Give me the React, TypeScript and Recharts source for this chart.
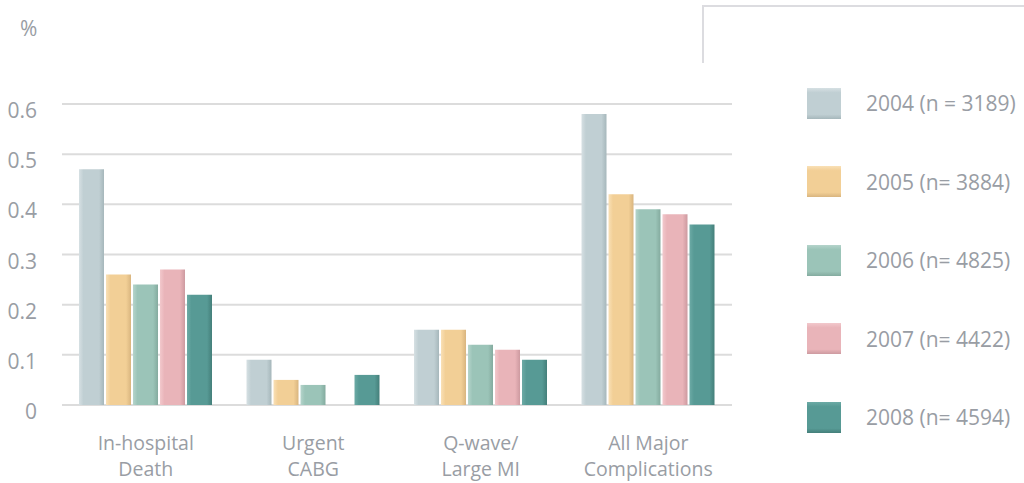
import React from 'react'
import { BarChart, Bar, XAxis, YAxis, CartesianGrid } from 'recharts'

const categories = ['In-hospital\nDeath', 'Urgent\nCABG', 'Q-wave/\nLarge MI', 'All Major\nComplications']
const y2004 = [0.47, 0.09, 0.15, 0.58]
const y2005 = [0.26, 0.05, 0.15, 0.42]
const y2006 = [0.24, 0.04, 0.12, 0.39]
const y2007 = [0.27, null, 0.11, 0.38]
const y2008 = [0.22, 0.06, 0.09, 0.36]
const yTicks = [0, 0.1, 0.2, 0.3, 0.4, 0.5, 0.6]

const series = [
  { key: 'y2004', name: '2004 (n = 3189)', values: y2004, light: '#d6e0e3', base: '#c0cfd3', dark: '#a6b7bb' },
  { key: 'y2005', name: '2005 (n= 3884)', values: y2005, light: '#f9e0b6', base: '#f2cf96', dark: '#d9b57f' },
  { key: 'y2006', name: '2006 (n= 4825)', values: y2006, light: '#b5d4cb', base: '#9bc4b8', dark: '#84ab9f' },
  { key: 'y2007', name: '2007 (n= 4422)', values: y2007, light: '#f2c8cc', base: '#e9b4b9', dark: '#cd9aa0' },
  { key: 'y2008', name: '2008 (n= 4594)', values: y2008, light: '#6caaa5', base: '#579a95', dark: '#447f7a' },
]

const data = categories.map((c, i) => {
  const row: Record<string, any> = { name: c }
  series.forEach(s => { row[s.key] = s.values[i] })
  return row
})

const textColor = '#999da4'
const font = '"Open Sans", sans-serif'

function YTick({ y, payload }: any) {
  const v = payload.value
  return (
    <text x={37} y={y} dy={14} textAnchor="end" fontSize={21} fill={textColor} fontFamily={font}>
      {v === 0 ? '0' : v.toFixed(1)}
    </text>
  )
}

function XTick({ x, y, payload }: any) {
  const lines = String(payload.value).split('\n')
  return (
    <text x={x} y={y} textAnchor="middle" fontSize={19.5} fill={textColor} fontFamily={font}>
      {lines.map((l, i) => (
        <tspan key={i} x={x} y={y + 37 + i * 26}>{l}</tspan>
      ))}
    </text>
  )
}

function LegendBox() {
  return (
    <div style={{ position: 'absolute', left: 807, top: 64, fontFamily: font }}>
      {series.map(s => (
        <div key={s.key} style={{ display: 'flex', alignItems: 'center', height: 78.5 }}>
          <div style={{
            width: 34, height: 31,
            background: `linear-gradient(to bottom, ${s.light} 0%, ${s.base} 15%, ${s.base} 85%, ${s.dark} 100%)`,
          }} />
          <span style={{ marginLeft: 25, fontSize: 21, color: textColor, whiteSpace: 'nowrap' }}>{s.name}</span>
        </div>
      ))}
    </div>
  )
}

export default function App() {
  return (
    <div style={{ position: 'absolute', left: 0, top: 0, width: 1024, height: 483, background: '#fff' }}>
      <style>{'body{margin:0}'}</style>
      <div style={{ position: 'absolute', left: 20, top: 14, fontSize: 21, color: textColor, fontFamily: font }}>%</div>
      <div style={{ position: 'absolute', left: 702, top: 5, width: 330, height: 56, borderTop: '2px solid #dcdce0', borderLeft: '2px solid #dcdce0' }} />
      <BarChart width={1024} height={483} data={data} margin={{ top: 104, right: 292, left: 0, bottom: 0 }} barSize={25} barGap={2}>
        <defs>
          {series.map(s => (
            <linearGradient key={s.key} id={`grad-${s.key}`} x1="0" y1="0" x2="1" y2="0">
              <stop offset="0%" stopColor={s.light} />
              <stop offset="18%" stopColor={s.base} />
              <stop offset="80%" stopColor={s.base} />
              <stop offset="100%" stopColor={s.dark} />
            </linearGradient>
          ))}
        </defs>
        <CartesianGrid vertical={false} stroke="#dcdcdc" strokeWidth={2} />
        <XAxis dataKey="name" axisLine={false} tickLine={false} height={78} interval={0} tick={<XTick />} />
        <YAxis domain={[0, 0.6]} ticks={yTicks} axisLine={false} tickLine={false} width={62} tick={<YTick />} />
        {series.map(s => (
          <Bar key={s.key} dataKey={s.key} name={s.name} fill={`url(#grad-${s.key})`} isAnimationActive={false} />
        ))}
      </BarChart>
      <LegendBox />
    </div>
  )
}
